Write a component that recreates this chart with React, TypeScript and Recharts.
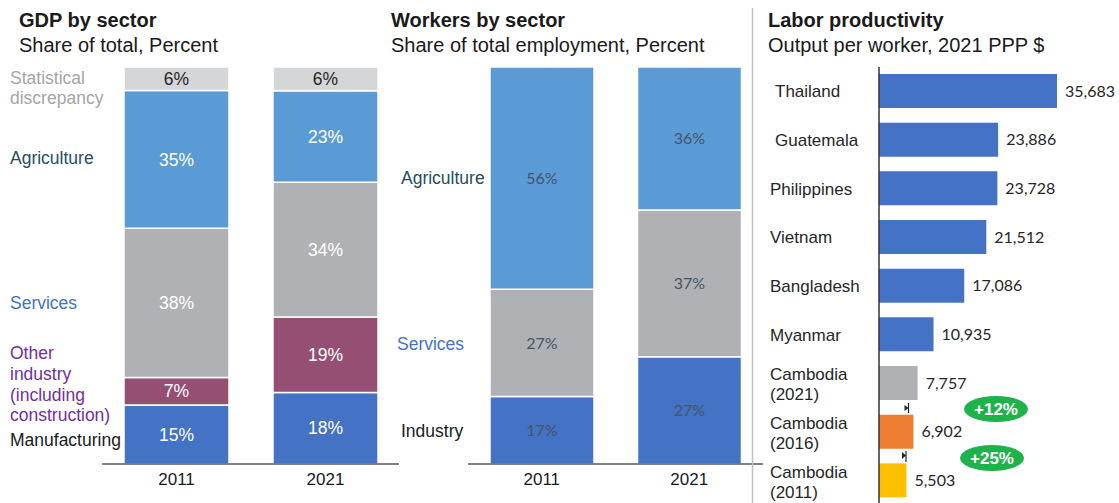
import React from "react";
import { BarChart, Bar, XAxis, YAxis, LabelList, Cell } from "recharts";

// GDP by sector, share of total (percent)
const gdpYears = ["2011", "2021"];
const gdpManufacturing = [15, 18];
const gdpOtherIndustry = [7, 19];
const gdpServices = [38, 34];
const gdpAgriculture = [35, 23];
const gdpDiscrepancy = [6, 6];

// Workers by sector, share of total employment (percent)
const workerYears = ["2011", "2021"];
const workerIndustry = [17, 27];
const workerServices = [27, 37];
const workerAgriculture = [56, 36];

// Labor productivity, output per worker, 2021 PPP $
const countries = [
  "Thailand",
  "Guatemala",
  "Philippines",
  "Vietnam",
  "Bangladesh",
  "Myanmar",
  "Cambodia\n(2021)",
  "Cambodia\n(2016)",
  "Cambodia\n(2011)",
];
const productivity = [35683, 23886, 23728, 21512, 17086, 10935, 7757, 6902, 5503];
const productivityColors = [
  "#4472c4", "#4472c4", "#4472c4", "#4472c4", "#4472c4", "#4472c4",
  "#b0b1b5", "#ed7d31", "#ffc000",
];

const ARIAL = "'Liberation Sans', Arial, sans-serif";
const CALIBRI = "Lato, 'Open Sans', sans-serif";

const gdpData = gdpYears.map((year, i) => ({
  year,
  manufacturing: gdpManufacturing[i],
  other: gdpOtherIndustry[i],
  services: gdpServices[i],
  agriculture: gdpAgriculture[i],
  discrepancy: gdpDiscrepancy[i],
}));

const workerData = workerYears.map((year, i) => ({
  year,
  industry: workerIndustry[i],
  services: workerServices[i],
  agriculture: workerAgriculture[i],
}));

const productivityData = countries.map((name, i) => ({
  name,
  value: productivity[i],
}));

const pct = (v: number) => `${v}%`;

function CountryTick({ y, payload }: { x?: number; y?: number; payload?: { value: string } }) {
  const lines = String(payload?.value ?? "").split("\n");
  const indent = lines[0] === "Thailand" || lines[0] === "Guatemala" ? 20 : 15;
  if (lines.length === 1) {
    return (
      <text x={indent} y={(y ?? 0) + 6} fontSize={17} fontFamily={ARIAL} fill="#262626">
        {lines[0]}
      </text>
    );
  }
  return (
    <text fontSize={17} fontFamily={ARIAL} fill="#262626">
      <tspan x={indent} y={(y ?? 0) - 3}>{lines[0]}</tspan>
      <tspan x={indent} y={(y ?? 0) + 17}>{lines[1]}</tspan>
    </text>
  );
}

const yearTick = { fontSize: 17, fill: "#1a1a1a", fontFamily: ARIAL };

export default function App() {
  return (
    <div
      style={{
        position: "absolute",
        left: 0,
        top: 0,
        width: 1119,
        height: 503,
        overflow: "hidden",
        background: "#fff",
      }}
    >
      {/* GDP by sector */}
      <div style={{ position: "absolute", left: 102, top: 67 }}>
        <BarChart
          width={298}
          height={427}
          data={gdpData}
          stackOffset="expand"
          margin={{ top: 0, right: 0, bottom: 0, left: 0 }}
        >
          <XAxis
            dataKey="year"
            axisLine={{ stroke: "#595959", strokeWidth: 1.5 }}
            tickLine={false}
            tick={yearTick}
            tickMargin={3}
            height={30}
          />
          <YAxis hide />
          <Bar dataKey="manufacturing" stackId="a" fill="#4472c4" stroke="#fff" strokeWidth={1.5} barSize={105} isAnimationActive={false}>
            <LabelList dataKey="manufacturing" position="center" formatter={pct} fill="#fff" fontSize={17.5} fontFamily={ARIAL} />
          </Bar>
          <Bar dataKey="other" stackId="a" fill="#954f72" stroke="#fff" strokeWidth={1.5} barSize={105} isAnimationActive={false}>
            <LabelList dataKey="other" position="center" formatter={pct} fill="#fff" fontSize={17.5} fontFamily={ARIAL} />
          </Bar>
          <Bar dataKey="services" stackId="a" fill="#b0b1b5" stroke="#fff" strokeWidth={1.5} barSize={105} isAnimationActive={false}>
            <LabelList dataKey="services" position="center" formatter={pct} fill="#fff" fontSize={17.5} fontFamily={ARIAL} />
          </Bar>
          <Bar dataKey="agriculture" stackId="a" fill="#5b9bd5" stroke="#fff" strokeWidth={1.5} barSize={105} isAnimationActive={false}>
            <LabelList dataKey="agriculture" position="center" formatter={pct} fill="#fff" fontSize={17.5} fontFamily={ARIAL} />
          </Bar>
          <Bar dataKey="discrepancy" stackId="a" fill="#d5d6d8" stroke="#fff" strokeWidth={1.5} barSize={105} isAnimationActive={false}>
            <LabelList dataKey="discrepancy" position="center" formatter={pct} fill="#262626" fontSize={17.5} fontFamily={ARIAL} />
          </Bar>
        </BarChart>
      </div>

      {/* Workers by sector */}
      <div style={{ position: "absolute", left: 468, top: 67 }}>
        <BarChart
          width={295}
          height={427}
          data={workerData}
          margin={{ top: 0, right: 0, bottom: 0, left: 0 }}
        >
          <XAxis
            dataKey="year"
            axisLine={{ stroke: "#595959", strokeWidth: 1.5 }}
            tickLine={false}
            tick={yearTick}
            tickMargin={3}
            height={30}
          />
          <YAxis hide domain={[0, 100]} />
          <Bar dataKey="industry" stackId="w" fill="#4472c4" stroke="#fff" strokeWidth={1.5} barSize={104} isAnimationActive={false}>
            <LabelList dataKey="industry" position="center" formatter={pct} fill="#44546a" fontSize={16} fontFamily={CALIBRI} />
          </Bar>
          <Bar dataKey="services" stackId="w" fill="#b0b1b5" stroke="#fff" strokeWidth={1.5} barSize={104} isAnimationActive={false}>
            <LabelList dataKey="services" position="center" formatter={pct} fill="#44546a" fontSize={16} fontFamily={CALIBRI} />
          </Bar>
          <Bar dataKey="agriculture" stackId="w" fill="#5b9bd5" stroke="#fff" strokeWidth={1.5} barSize={104} isAnimationActive={false}>
            <LabelList dataKey="agriculture" position="center" formatter={pct} fill="#44546a" fontSize={16} fontFamily={CALIBRI} />
          </Bar>
        </BarChart>
      </div>

      {/* Labor productivity */}
      <div style={{ position: "absolute", left: 755, top: 67 }}>
        <BarChart
          width={364}
          height={438}
          layout="vertical"
          data={productivityData}
          margin={{ top: 0, right: 10, bottom: 0, left: 0 }}
        >
          <XAxis type="number" hide domain={[0, 46110]} />
          <YAxis
            type="category"
            dataKey="name"
            width={124}
            axisLine={{ stroke: "#333", strokeWidth: 1.5 }}
            tickLine={false}
            tick={<CountryTick />}
            interval={0}
          />
          <Bar dataKey="value" barSize={34} isAnimationActive={false}>
            {productivityData.map((d, i) => (
              <Cell key={d.name} fill={productivityColors[i]} />
            ))}
            <LabelList
              dataKey="value"
              position="right"
              offset={8}
              formatter={(v: number) => v.toLocaleString("en-US")}
              fill="#262626"
              fontSize={16}
              fontFamily={CALIBRI}
            />
          </Bar>
        </BarChart>
      </div>

      {/* titles, category labels and annotations */}
      <svg
        width={1119}
        height={503}
        style={{ position: "absolute", left: 0, top: 0, pointerEvents: "none" }}
        fontFamily={ARIAL}
      >
        <line x1={752.5} y1={8} x2={752.5} y2={503} stroke="#bfbfbf" strokeWidth={1.5} />

        <text x={19} y={27} fontSize={20} fontWeight="bold" fill="#1a1a1a">GDP by sector</text>
        <text x={19} y={52} fontSize={20} fill="#1a1a1a">Share of total, Percent</text>
        <text x={391} y={27} fontSize={20} fontWeight="bold" fill="#1a1a1a">Workers by sector</text>
        <text x={391} y={52} fontSize={20} fill="#1a1a1a">Share of total employment, Percent</text>
        <text x={768} y={27} fontSize={20} fontWeight="bold" fill="#1a1a1a">Labor productivity</text>
        <text x={768} y={52} fontSize={20} fill="#1a1a1a">Output per worker, 2021 PPP $</text>

        <text fontSize={17.5} fill="#a5a5a5">
          <tspan x={10} y={84}>Statistical</tspan>
          <tspan x={10} y={104}>discrepancy</tspan>
        </text>
        <text x={10} y={164} fontSize={17.5} fill="#264e60">Agriculture</text>
        <text x={10} y={309} fontSize={17.5} fill="#4472c4">Services</text>
        <text fontSize={17.5} fill="#7030a0">
          <tspan x={10} y={359}>Other</tspan>
          <tspan x={10} y={380}>industry</tspan>
          <tspan x={10} y={401}>(including</tspan>
          <tspan x={10} y={421}>construction)</tspan>
        </text>
        <text x={10} y={446} fontSize={17.5} fill="#1a1a1a">Manufacturing</text>

        <rect x={399} y={460} width={68} height={8} fill="#fff" />
        <text x={401} y={184} fontSize={17.5} fill="#264e60">Agriculture</text>
        <text x={397} y={350} fontSize={17.5} fill="#4472c4">Services</text>
        <text x={401} y={437} fontSize={17.5} fill="#1a1a1a">Industry</text>

        <line x1={908.5} y1={403} x2={908.5} y2={413} stroke="#262626" strokeWidth={1.2} />
        <path d="M904.5,405 L908.5,408 L904.5,411 Z" fill="#262626" />
        <line x1={906} y1={451} x2={906} y2={462} stroke="#262626" strokeWidth={1.2} />
        <path d="M902,452 L906,455.5 L902,459 Z" fill="#262626" />

        <ellipse cx={996} cy={409} rx={32} ry={13} fill="#1fb24a" />
        <text x={996} y={415} fontSize={17} fontWeight="bold" fill="#fff" textAnchor="middle">+12%</text>
        <ellipse cx={992} cy={458} rx={32} ry={13} fill="#1fb24a" />
        <text x={992} y={464} fontSize={17} fontWeight="bold" fill="#fff" textAnchor="middle">+25%</text>
      </svg>
    </div>
  );
}
